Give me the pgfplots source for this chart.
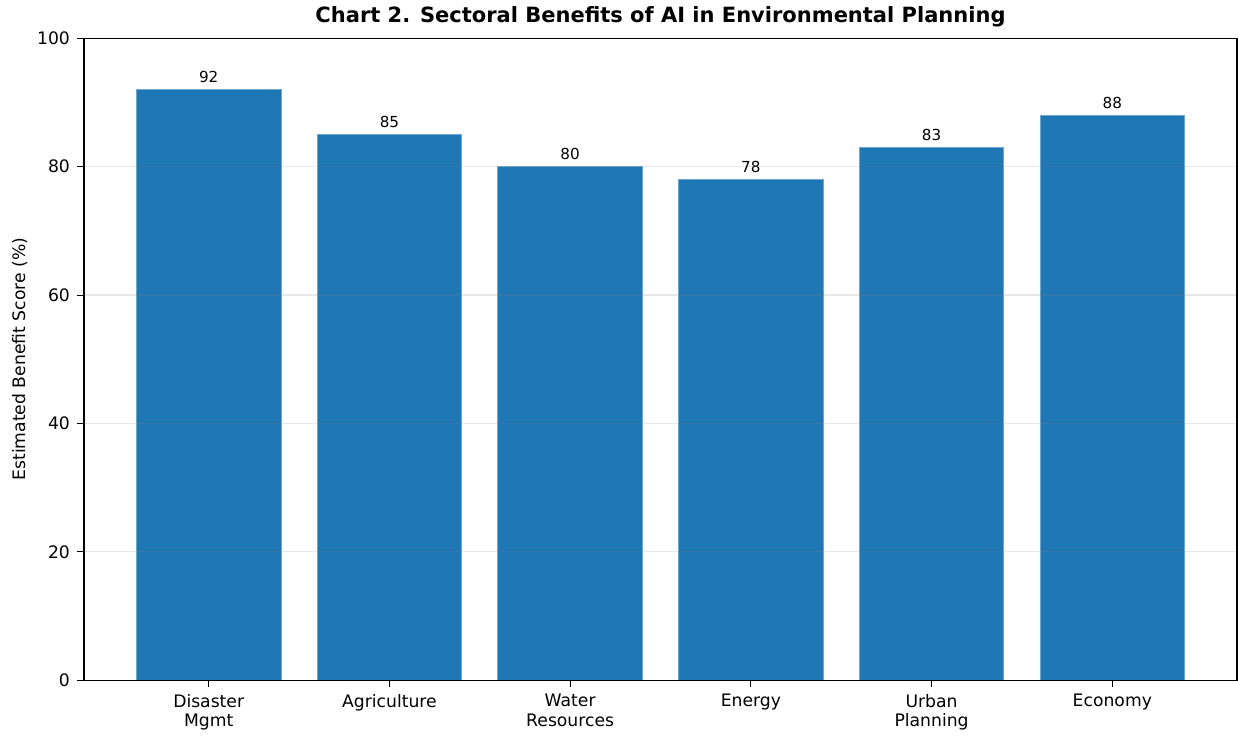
\documentclass[border=0pt]{standalone}
\usepackage{pgfplots}
\pgfplotsset{compat=1.18}
\usepackage{fontspec}
\setmainfont{DejaVu Sans}
\definecolor{barblue}{HTML}{1F77B4}
\begin{document}
\begin{tikzpicture}
\begin{axis}[
  scale only axis,
  width=576.5pt, height=321pt,
  xmin=-0.69, xmax=5.69,
  ymin=0, ymax=100,
  ytick={0,20,40,60,80,100},
  xtick={0,1,2,3,4,5},
  xticklabels={Disaster\\Mgmt,Agriculture,Water\\Resources,Energy,Urban\\Planning,Economy},
  xticklabel style={align=center, font=\fontsize{8.6}{9.6}\selectfont},
  yticklabel style={font=\fontsize{8.6}{9.6}\selectfont},
  /pgf/number format/assume math mode=true,
  tick align=outside,
  xtick pos=bottom, ytick pos=left,
  major tick length=3.5pt,
  tick style={black, line width=0.5pt},
  axis line style={line width=0.6pt},
  ymajorgrids,
  grid style={gray, opacity=0.18, line width=0.6pt},
  axis on top,
  ylabel={Estimated Benefit Score (\%)},
  ylabel style={font=\fontsize{8.6}{9.6}\selectfont, yshift=-2pt},
  title={\textbf{Chart 2. Sectoral Benefits of AI in Environmental Planning}},
  title style={font=\fontsize{10.5}{12}\selectfont, yshift=-4pt},
  ybar, bar width=0.8,
  nodes near coords,
  every node near coord/.append style={font=\fontsize{7.6}{9}\selectfont, black, inner sep=3pt},
]
\addplot[fill=barblue, draw=barblue!65!white, line width=0.4pt] coordinates {
  (0,92) (1,85) (2,80) (3,78) (4,83) (5,88)
};
\end{axis}
\path (current axis.south west) ++(-42pt,-26pt) rectangle ([xshift=0.5pt,yshift=18pt]current axis.north east);
\end{tikzpicture}
\end{document}
